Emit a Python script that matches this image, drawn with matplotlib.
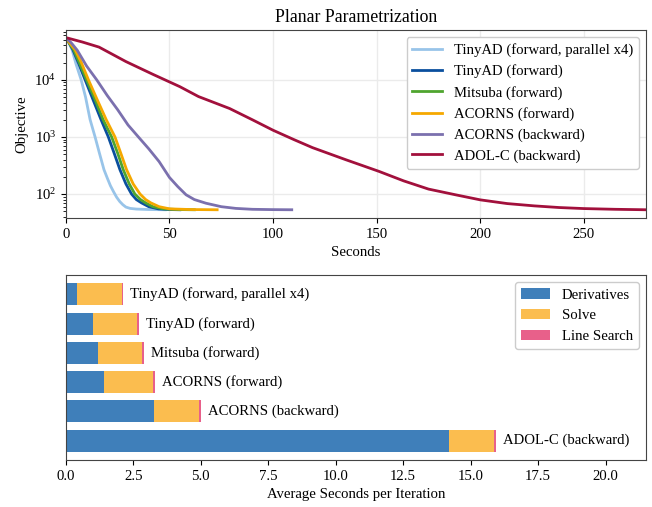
import numpy as np
import matplotlib
matplotlib.use("Agg")
import matplotlib.pyplot as plt

plt.rcParams['font.family'] = ['Liberation Serif', 'DejaVu Serif']
plt.rcParams['mathtext.fontset'] = 'custom'
plt.rcParams['mathtext.rm'] = 'Liberation Serif'
plt.rcParams['font.size'] = 10.6
plt.rcParams['axes.edgecolor'] = '#444444'

# --- courbes de convergence (temps en s, objectif) ---
t_tiny_par = [0, 1.5, 3, 5, 7.4, 9.5, 11.7, 14.1, 16.2, 18.4, 20, 21.5, 23, 24.5, 26, 27.5, 29, 31, 34, 40, 48]
v_tiny_par = [54000, 44000, 33600, 18500, 10000, 5000, 2010, 1000, 520, 267, 190, 140, 110, 88, 74, 65, 59, 56, 54.5, 53.5, 53]

t_tiny = [0, 1.5, 3.4, 6, 9.3, 13, 17, 20.5, 23.3, 26.1, 29, 31.7, 34, 36.5, 40, 44.6, 50, 55]
v_tiny = [54000, 45000, 33600, 20000, 10000, 4600, 2000, 1000, 520, 267, 150, 100, 80, 70, 60, 55, 53.5, 53]

t_mitsuba = [0, 1.5, 3.8, 6.5, 10, 14, 18, 22.1, 25, 27.7, 30.6, 33.3, 36, 38.5, 42, 47, 54, 62]
v_mitsuba = [54000, 45000, 33600, 20000, 10000, 4600, 2000, 1000, 520, 267, 150, 100, 80, 70, 60, 55, 53.5, 53]

t_acorns_fwd = [0, 1.5, 4.5, 7.5, 10.9, 15, 19.5, 23.7, 26.5, 29.3, 32.5, 35.8, 38.5, 41, 45, 50, 60, 73]
v_acorns_fwd = [54000, 46000, 33600, 20000, 10000, 4600, 2000, 1000, 520, 267, 150, 100, 80, 70, 60, 55, 53.5, 53]

t_acorns_bwd = [0, 2.5, 5.5, 10, 14.9, 20, 25, 30, 35, 40, 45, 50, 54, 58, 62, 67.6, 75, 82, 90, 100, 109]
v_acorns_bwd = [54000, 45000, 33000, 17500, 10000, 5300, 3000, 1620, 1000, 620, 370, 195, 135, 97, 80, 69, 60, 56, 54, 53.3, 53]

t_adolc = [0, 8, 16, 29, 42, 55, 64, 79, 90, 100, 110, 119, 135, 151, 163, 175, 188, 200, 213, 226, 238, 250, 265, 280]
v_adolc = [55000, 46000, 37500, 20900, 12500, 7600, 5100, 3150, 2000, 1310, 900, 650, 400, 250, 170, 122, 97, 79, 68, 62, 58, 55.6, 54, 53]

courbes = [
    ("TinyAD (forward, parallel x4)", t_tiny_par, v_tiny_par, '#98c4e9'),
    ("TinyAD (forward)", t_tiny, v_tiny, '#0a4f9e'),
    ("Mitsuba (forward)", t_mitsuba, v_mitsuba, '#4fa52f'),
    ("ACORNS (forward)", t_acorns_fwd, v_acorns_fwd, '#f5a800'),
    ("ACORNS (backward)", t_acorns_bwd, v_acorns_bwd, '#7b70ae'),
    ("ADOL-C (backward)", t_adolc, v_adolc, '#a2103c'),
]

# --- temps moyen par itération ---
methodes = ["TinyAD (forward, parallel x4)", "TinyAD (forward)", "Mitsuba (forward)",
            "ACORNS (forward)", "ACORNS (backward)", "ADOL-C (backward)"]
derivees = [0.43, 1.02, 1.18, 1.41, 3.28, 14.18]
solve = [1.65, 1.62, 1.65, 1.82, 1.66, 1.67]
line_search = [0.03, 0.08, 0.07, 0.08, 0.06, 0.08]

fig = plt.figure(figsize=(6.52, 5.07), dpi=100)
ax1 = fig.add_axes([0.101, 0.570, 0.890, 0.371])
ax2 = fig.add_axes([0.101, 0.0927, 0.890, 0.365])

# courbes
for nom, t, v, c in courbes:
    ax1.plot(t, v, color=c, lw=2, label=nom)
ax1.set_yscale('log')
ax1.set_xlim(0, 280)
ax1.set_ylim(38, 75000)
ax1.grid(True, which='major', color='#ebebeb', lw=1)
ax1.set_axisbelow(True)
ax1.set_xlabel("Seconds")
ax1.set_ylabel("Objective")
ax1.set_title("Planar Parametrization", fontsize=12.8)
ax1.legend(loc='upper right', edgecolor='#cccccc', framealpha=1)

# barres
y = np.arange(len(methodes))
d = np.array(derivees)
s = np.array(solve)
ls = np.array(line_search)
ax2.barh(y, d, height=0.75, color='#3f7fba', label='Derivatives')
ax2.barh(y, s, left=d, height=0.75, color='#fbbd4f', label='Solve')
b = ax2.barh(y, ls, left=d + s, height=0.75, color='#e8608a', label='Line Search')
ax2.bar_label(b, labels=methodes, padding=5)
ax2.invert_yaxis()
ax2.set_yticks([])
ax2.set_xlim(0, 21.5)
ax2.set_xticks(np.arange(0, 21, 2.5))
ax2.set_xlabel("Average Seconds per Iteration")
ax2.legend(loc='upper right', edgecolor='#cccccc', framealpha=1)

fig.savefig("out.png", dpi=100)
